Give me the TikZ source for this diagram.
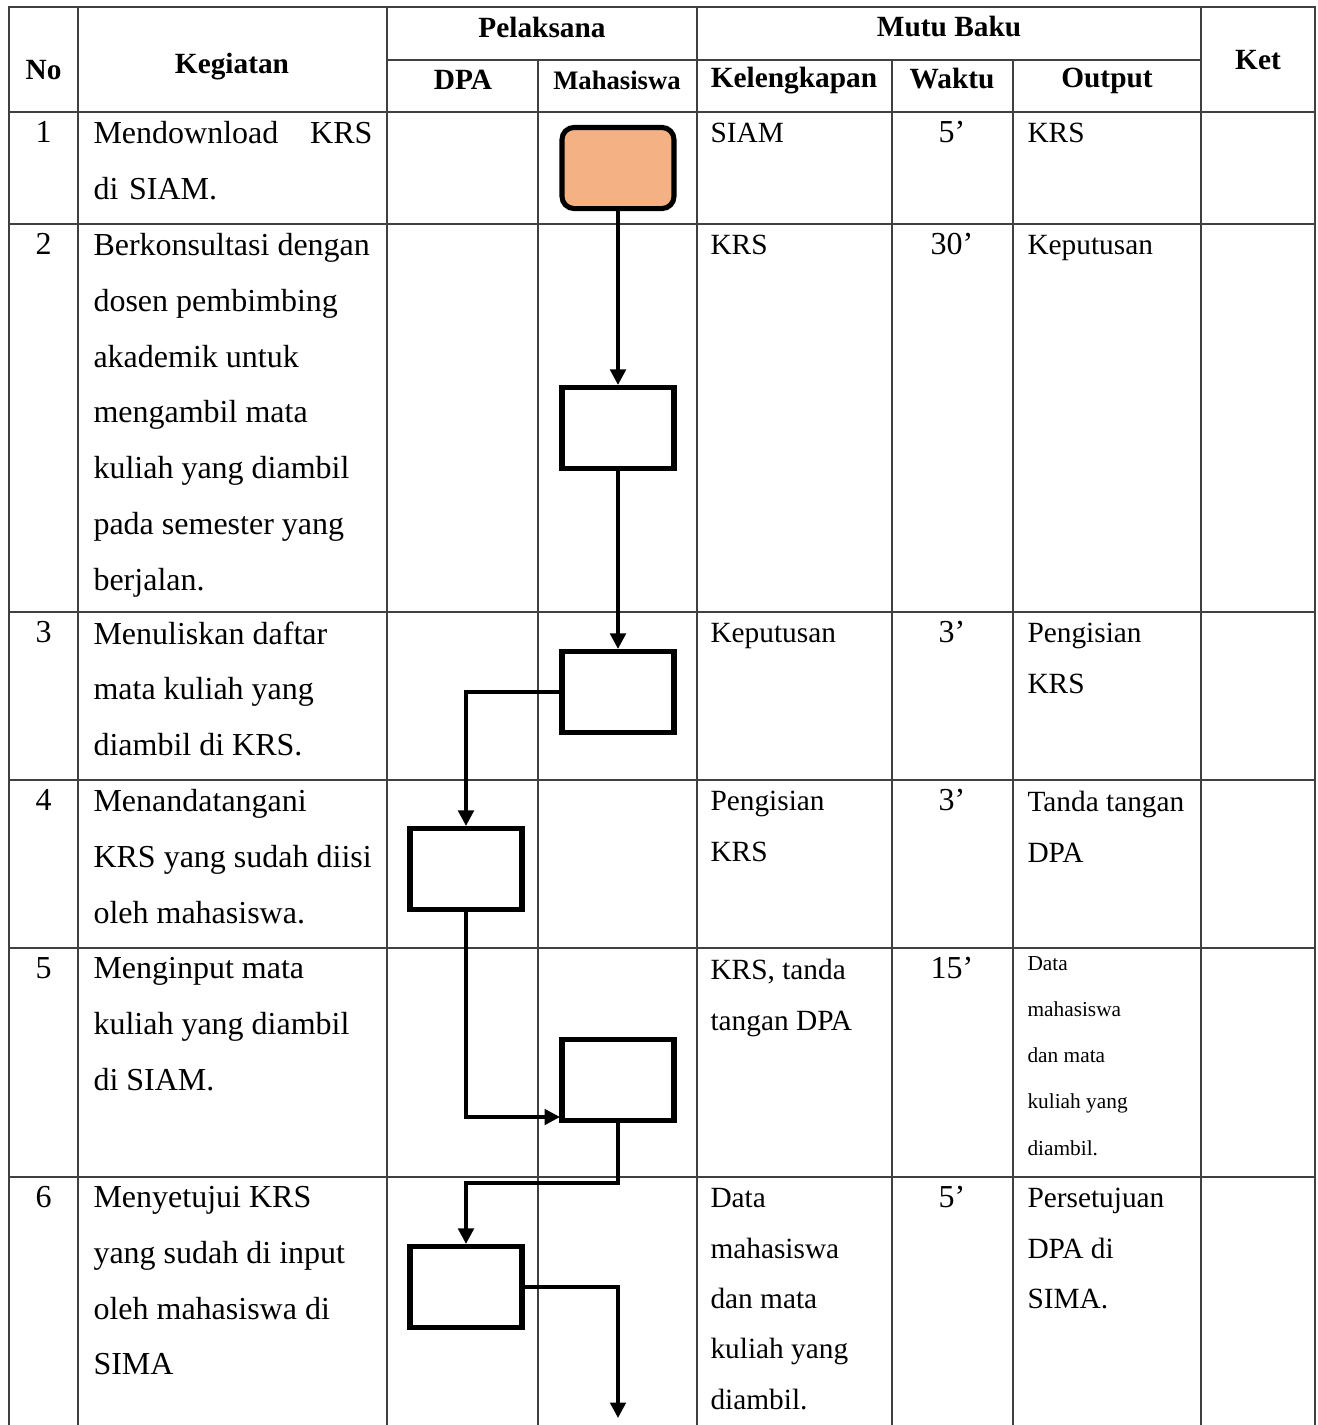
\documentclass[tikz,border=0pt]{standalone}
\usepackage{fontspec}
\setmainfont{Liberation Serif}
\usetikzlibrary{positioning,arrows.meta}
\definecolor{peach}{HTML}{F4B183}

\begin{document}
\begin{tikzpicture}[x=0.375pt,y=-0.375pt,
    grid/.style={draw=black!75,line width=0.6pt},
    head/.style={font=\fontsize{11}{13}\selectfont\bfseries,inner sep=0},
    txt/.style={font=\fontsize{12}{20.9}\selectfont,align=left,anchor=north west,inner sep=0},
    std/.style={font=\fontsize{11}{18.9}\selectfont,align=left,anchor=north west,inner sep=0},
    small/.style={font=\fontsize{8}{17.3}\selectfont,align=left,anchor=north west,inner sep=0},
    num/.style={font=\fontsize{12}{14}\selectfont,anchor=north,inner sep=0},
    proc/.style={draw,fill=white,line width=1.9pt,minimum width=42pt,minimum height=30.4pt,inner sep=0},
    flow/.style={line width=1.3pt,-{Triangle[length=5.8pt,width=5.8pt]}}]
    \useasboundingbox (0,0) rectangle (1318,1425);

    % table
    \draw[grid] (9,1425) -- (9,7) -- (1315,7) -- (1315,1425);
    \foreach \y in {112,224,612,780,948,1177} \draw[grid] (9,\y) -- (1315,\y);
    \draw[grid] (387,60) -- (1201,60);
    \foreach \x in {78,387,697,1201} \draw[grid] (\x,7) -- (\x,1425);
    \foreach \x in {538,892,1013} \draw[grid] (\x,60) -- (\x,1425);

    % header
    \node[head] (h_no)   at (43.5,70) {No};
    \node[head] (h_keg)  at (232,67)  {Kegiatan};
    \node[head] (h_pel)  at (542,27)  {Pelaksana};
    \node[head] (h_dpa)  at (463,80)  {DPA};
    \node[head,font=\fontsize{10}{12}\selectfont\bfseries] (h_mhs) at (617,80) {Mahasiswa};
    \node[head] (h_mutu) at (949,27)  {Mutu Baku};
    \node[head] (h_kel)  at (794,81)  {Kelengkapan};
    \node[head] (h_wkt)  at (952,79)  {Waktu};
    \node[head] (h_out)  at (1107,81) {Output};
    \node[head] (h_ket)  at (1258,60) {Ket};

    % nomor
    \node[num] (no_1) at (43.5,121)  {1};
    \node[num] (no_2) at (43.5,233)  {2};
    \node[num] (no_3) at (43.5,621)  {3};
    \node[num] (no_4) at (43.5,789)  {4};
    \node[num] (no_5) at (43.5,957)  {5};
    \node[num] (no_6) at (43.5,1186) {6};

    % kegiatan
    \node[txt,text width=104.6pt] (keg_1) at (93,121) {Mendownload\hfill KRS\\di SIAM.};
    \node[txt] (keg_2) at (93,233) {Berkonsultasi dengan\\dosen pembimbing\\akademik untuk\\mengambil mata\\kuliah yang diambil\\pada semester yang\\berjalan.};
    \node[txt] (keg_3) at (93,621) {Menuliskan daftar\\mata kuliah yang\\diambil di KRS.};
    \node[txt] (keg_4) at (93,789) {Menandatangani\\KRS yang sudah diisi\\oleh mahasiswa.};
    \node[txt] (keg_5) at (93,957) {Menginput mata\\kuliah yang diambil\\di SIAM.};
    \node[txt] (keg_6) at (93,1186) {Menyetujui KRS\\yang sudah di input\\oleh mahasiswa di\\SIMA};

    % kelengkapan
    \node[std] (kel_1) at (710,123)  {SIAM};
    \node[std] (kel_2) at (710,235)  {KRS};
    \node[std] (kel_3) at (710,623)  {Keputusan};
    \node[std] (kel_4) at (710,791)  {Pengisian\\KRS};
    \node[std] (kel_5) at (710,959)  {KRS, tanda\\tangan DPA};
    \node[std] (kel_6) at (710,1188) {Data\\mahasiswa\\dan mata\\kuliah yang\\diambil.};

    % waktu
    \node[num] (wkt_1) at (952,121)  {5’};
    \node[num] (wkt_2) at (952,233)  {30’};
    \node[num] (wkt_3) at (952,621)  {3’};
    \node[num] (wkt_4) at (952,789)  {3’};
    \node[num] (wkt_5) at (952,957)  {15’};
    \node[num] (wkt_6) at (952,1186) {5’};

    % output
    \node[std] (out_1) at (1027,123)  {KRS};
    \node[std] (out_2) at (1027,235)  {Keputusan};
    \node[std] (out_3) at (1027,623)  {Pengisian\\KRS};
    \node[std] (out_4) at (1027,791)  {Tanda tangan\\DPA};
    \node[small] (out_5) at (1027,956) {Data\\mahasiswa\\dan mata\\kuliah yang\\diambil.};
    \node[std] (out_6) at (1027,1188) {Persetujuan\\DPA di\\SIMA.};

    % bagan alir
    \node[proc,rounded corners=4.5pt,fill=peach] (box_1) at (618,168) {};
    \node[proc] (box_2) at (618,428)  {};
    \node[proc] (box_3) at (618,692)  {};
    \node[proc] (box_4) at (466,869)  {};
    \node[proc] (box_5) at (618,1080) {};
    \node[proc] (box_6) at (466,1287) {};
    \coordinate (in_5)  at (560,1117);
    \coordinate (end_6) at (618,1418);

    \path[flow]
    (box_1) edge (box_2)
    (box_2) edge (box_3)
    ; %end path
    \draw[flow] (box_3.west) -| (box_4.north);
    \draw[flow] (box_4.south) |- (in_5);
    \draw[flow] (box_5.south) -- ++(0,60) -| (box_6.north);
    \draw[flow] (box_6.east) -| (end_6);
\end{tikzpicture}
\end{document}
